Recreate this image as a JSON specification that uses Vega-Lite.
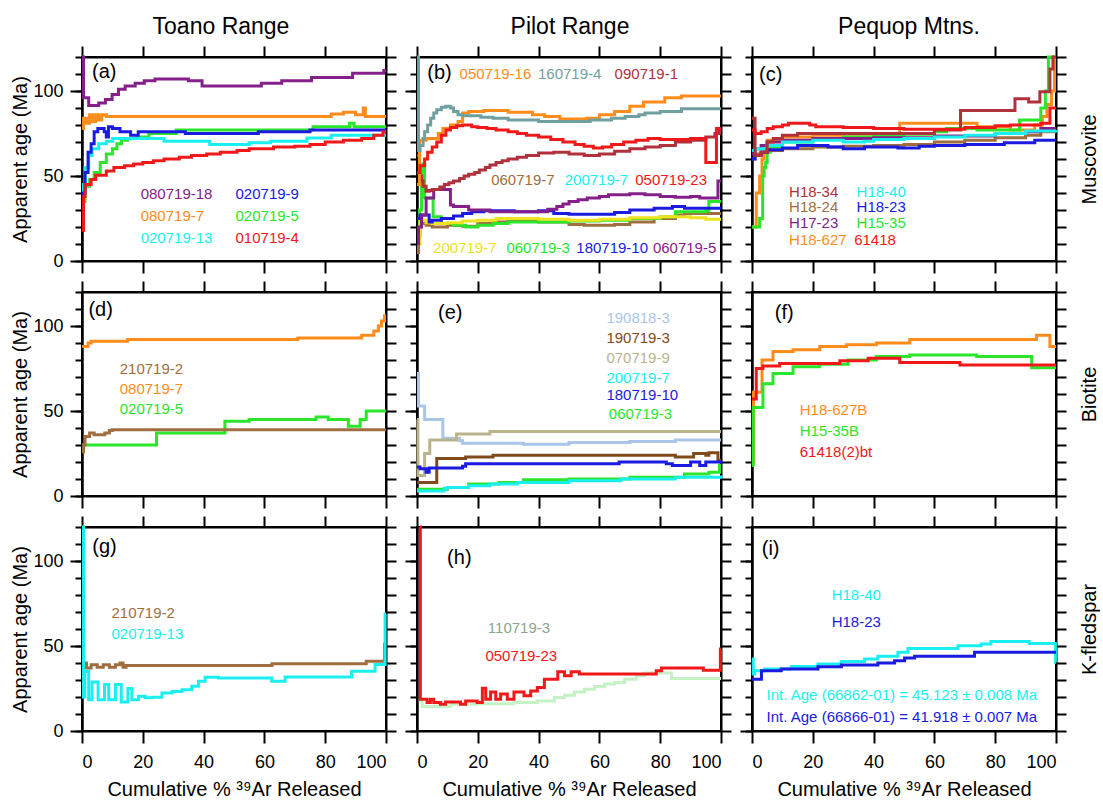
{
"$schema": "https://vega.github.io/schema/vega-lite/v6.json",
"background": "white",
"padding": {"left": 9, "top": 15, "right": 5, "bottom": 5},
"config": {
 "font": "Liberation Sans",
 "view": {"stroke": "black", "strokeWidth": 2},
 "axis": {"grid": false, "domainColor": "black", "domainWidth": 2, "tickColor": "black", "tickWidth": 2, "labelColor": "black", "labelFontSize": 18, "labelFont": "Liberation Sans", "labelPadding": 7, "titleFont": "Liberation Sans", "titleFontSize": 20, "titleFontWeight": "normal", "titleColor": "black"},
 "title": {"font": "Liberation Sans", "fontSize": 23, "fontWeight": "normal", "color": "black", "anchor": "middle", "frame": "group", "offset": 6},
 "text": {"font": "Liberation Sans"}
},
"datasets": {
"lines": [
{"p":"a","s":"080719-7","x":0,"y":78},{"p":"a","s":"080719-7","x":0.5,"y":84},{"p":"a","s":"080719-7","x":1.5,"y":81},{"p":"a","s":"080719-7","x":2.5,"y":86},{"p":"a","s":"080719-7","x":3.5,"y":82},{"p":"a","s":"080719-7","x":4.5,"y":86},{"p":"a","s":"080719-7","x":5.5,"y":83},{"p":"a","s":"080719-7","x":6.5,"y":86},{"p":"a","s":"080719-7","x":8,"y":85},{"p":"a","s":"080719-7","x":82,"y":86.5},{"p":"a","s":"080719-7","x":86,"y":87.5},{"p":"a","s":"080719-7","x":90,"y":86},{"p":"a","s":"080719-7","x":92.5,"y":90},{"p":"a","s":"080719-7","x":93.2,"y":85},{"p":"a","s":"080719-7","x":100,"y":85},
{"p":"a","s":"080719-18","x":0,"y":120},{"p":"a","s":"080719-18","x":0.5,"y":96},{"p":"a","s":"080719-18","x":2.2,"y":91.5},{"p":"a","s":"080719-18","x":5.5,"y":93},{"p":"a","s":"080719-18","x":7.7,"y":95},{"p":"a","s":"080719-18","x":9.9,"y":98},{"p":"a","s":"080719-18","x":12,"y":101},{"p":"a","s":"080719-18","x":14.2,"y":103},{"p":"a","s":"080719-18","x":17.5,"y":104.5},{"p":"a","s":"080719-18","x":20.5,"y":106},{"p":"a","s":"080719-18","x":24,"y":107},{"p":"a","s":"080719-18","x":35,"y":106},{"p":"a","s":"080719-18","x":39.5,"y":103},{"p":"a","s":"080719-18","x":51.5,"y":103},{"p":"a","s":"080719-18","x":59,"y":104.5},{"p":"a","s":"080719-18","x":65.7,"y":106},{"p":"a","s":"080719-18","x":75.5,"y":108},{"p":"a","s":"080719-18","x":89,"y":110.5},{"p":"a","s":"080719-18","x":99.3,"y":112},{"p":"a","s":"080719-18","x":100,"y":112},
{"p":"a","s":"020719-5","x":0,"y":35},{"p":"a","s":"020719-5","x":1,"y":44},{"p":"a","s":"020719-5","x":2.5,"y":48},{"p":"a","s":"020719-5","x":4,"y":52},{"p":"a","s":"020719-5","x":6,"y":58},{"p":"a","s":"020719-5","x":8,"y":63},{"p":"a","s":"020719-5","x":10,"y":66},{"p":"a","s":"020719-5","x":11.5,"y":69},{"p":"a","s":"020719-5","x":13,"y":71},{"p":"a","s":"020719-5","x":15,"y":72},{"p":"a","s":"020719-5","x":18,"y":73},{"p":"a","s":"020719-5","x":22,"y":75},{"p":"a","s":"020719-5","x":31,"y":77},{"p":"a","s":"020719-5","x":76,"y":79},{"p":"a","s":"020719-5","x":88,"y":81},{"p":"a","s":"020719-5","x":89.5,"y":79},{"p":"a","s":"020719-5","x":100,"y":79},
{"p":"a","s":"020719-13","x":0,"y":35},{"p":"a","s":"020719-13","x":0.5,"y":45},{"p":"a","s":"020719-13","x":1,"y":55},{"p":"a","s":"020719-13","x":2.2,"y":62},{"p":"a","s":"020719-13","x":3.3,"y":66},{"p":"a","s":"020719-13","x":5.5,"y":69},{"p":"a","s":"020719-13","x":8,"y":70.5},{"p":"a","s":"020719-13","x":10,"y":72},{"p":"a","s":"020719-13","x":27,"y":70.5},{"p":"a","s":"020719-13","x":42,"y":68.5},{"p":"a","s":"020719-13","x":55,"y":69.5},{"p":"a","s":"020719-13","x":62,"y":70.5},{"p":"a","s":"020719-13","x":74,"y":72.4},{"p":"a","s":"020719-13","x":82,"y":74},{"p":"a","s":"020719-13","x":100,"y":74},
{"p":"a","s":"020719-9","x":0,"y":25},{"p":"a","s":"020719-9","x":0.4,"y":40},{"p":"a","s":"020719-9","x":1,"y":52},{"p":"a","s":"020719-9","x":2,"y":64},{"p":"a","s":"020719-9","x":3,"y":69},{"p":"a","s":"020719-9","x":4,"y":76},{"p":"a","s":"020719-9","x":5.2,"y":78},{"p":"a","s":"020719-9","x":7.3,"y":76},{"p":"a","s":"020719-9","x":8,"y":73},{"p":"a","s":"020719-9","x":8.7,"y":79},{"p":"a","s":"020719-9","x":10,"y":78},{"p":"a","s":"020719-9","x":12.5,"y":76},{"p":"a","s":"020719-9","x":16,"y":74},{"p":"a","s":"020719-9","x":18.5,"y":76},{"p":"a","s":"020719-9","x":34,"y":75},{"p":"a","s":"020719-9","x":45,"y":75},{"p":"a","s":"020719-9","x":58,"y":76},{"p":"a","s":"020719-9","x":75,"y":77},{"p":"a","s":"020719-9","x":100,"y":77},
{"p":"a","s":"010719-4","x":0,"y":18},{"p":"a","s":"010719-4","x":0.5,"y":38},{"p":"a","s":"010719-4","x":1,"y":45},{"p":"a","s":"010719-4","x":3,"y":48},{"p":"a","s":"010719-4","x":4.5,"y":50.5},{"p":"a","s":"010719-4","x":8,"y":53},{"p":"a","s":"010719-4","x":10.5,"y":55},{"p":"a","s":"010719-4","x":14,"y":56},{"p":"a","s":"010719-4","x":17,"y":57},{"p":"a","s":"010719-4","x":20,"y":58},{"p":"a","s":"010719-4","x":23.5,"y":59},{"p":"a","s":"010719-4","x":27,"y":60},{"p":"a","s":"010719-4","x":32,"y":61},{"p":"a","s":"010719-4","x":36,"y":62},{"p":"a","s":"010719-4","x":41,"y":63},{"p":"a","s":"010719-4","x":45.5,"y":64},{"p":"a","s":"010719-4","x":51,"y":65},{"p":"a","s":"010719-4","x":55,"y":66},{"p":"a","s":"010719-4","x":63,"y":67},{"p":"a","s":"010719-4","x":70,"y":67.5},{"p":"a","s":"010719-4","x":75,"y":68.5},{"p":"a","s":"010719-4","x":80,"y":70},{"p":"a","s":"010719-4","x":86,"y":71},{"p":"a","s":"010719-4","x":92,"y":72},{"p":"a","s":"010719-4","x":96,"y":74},{"p":"a","s":"010719-4","x":99,"y":76},{"p":"a","s":"010719-4","x":100,"y":76},

{"p":"b","s":"060719-7","x":0,"y":5},{"p":"b","s":"060719-7","x":0.5,"y":15},{"p":"b","s":"060719-7","x":1,"y":22},{"p":"b","s":"060719-7","x":3,"y":21},{"p":"b","s":"060719-7","x":5,"y":20},{"p":"b","s":"060719-7","x":10,"y":21},{"p":"b","s":"060719-7","x":15,"y":20.5},{"p":"b","s":"060719-7","x":20,"y":22},{"p":"b","s":"060719-7","x":25,"y":23},{"p":"b","s":"060719-7","x":30,"y":23.5},{"p":"b","s":"060719-7","x":40,"y":23},{"p":"b","s":"060719-7","x":50,"y":21.5},{"p":"b","s":"060719-7","x":55,"y":21},{"p":"b","s":"060719-7","x":65,"y":21.5},{"p":"b","s":"060719-7","x":70,"y":23},{"p":"b","s":"060719-7","x":78,"y":25},{"p":"b","s":"060719-7","x":85,"y":27},{"p":"b","s":"060719-7","x":88,"y":28},{"p":"b","s":"060719-7","x":100,"y":28},
{"p":"b","s":"060719-3","x":0,"y":10},{"p":"b","s":"060719-3","x":0.8,"y":30},{"p":"b","s":"060719-3","x":1.5,"y":57},{"p":"b","s":"060719-3","x":2.5,"y":37},{"p":"b","s":"060719-3","x":5.3,"y":26},{"p":"b","s":"060719-3","x":8,"y":22},{"p":"b","s":"060719-3","x":12,"y":21},{"p":"b","s":"060719-3","x":16,"y":20},{"p":"b","s":"060719-3","x":20,"y":21},{"p":"b","s":"060719-3","x":25,"y":22},{"p":"b","s":"060719-3","x":30,"y":23},{"p":"b","s":"060719-3","x":50,"y":23.5},{"p":"b","s":"060719-3","x":60,"y":24},{"p":"b","s":"060719-3","x":70,"y":25},{"p":"b","s":"060719-3","x":80,"y":26},{"p":"b","s":"060719-3","x":85,"y":29},{"p":"b","s":"060719-3","x":95,"y":29.5},{"p":"b","s":"060719-3","x":96,"y":35},{"p":"b","s":"060719-3","x":100,"y":35},
{"p":"b","s":"200719-7y","x":0,"y":10},{"p":"b","s":"200719-7y","x":1,"y":25},{"p":"b","s":"200719-7y","x":1.5,"y":24},{"p":"b","s":"200719-7y","x":3,"y":22.5},{"p":"b","s":"200719-7y","x":5,"y":22},{"p":"b","s":"200719-7y","x":10,"y":22.5},{"p":"b","s":"200719-7y","x":15,"y":23.5},{"p":"b","s":"200719-7y","x":20,"y":24},{"p":"b","s":"200719-7y","x":26,"y":25},{"p":"b","s":"200719-7y","x":40,"y":24.5},{"p":"b","s":"200719-7y","x":50,"y":24},{"p":"b","s":"200719-7y","x":60,"y":24.5},{"p":"b","s":"200719-7y","x":70,"y":25.5},{"p":"b","s":"200719-7y","x":80,"y":26},{"p":"b","s":"200719-7y","x":90,"y":25.5},{"p":"b","s":"200719-7y","x":95,"y":24.5},{"p":"b","s":"200719-7y","x":100,"y":24.5},
{"p":"b","s":"180719-10","x":0,"y":25},{"p":"b","s":"180719-10","x":1,"y":27},{"p":"b","s":"180719-10","x":4,"y":23},{"p":"b","s":"180719-10","x":5,"y":24},{"p":"b","s":"180719-10","x":8,"y":25},{"p":"b","s":"180719-10","x":12,"y":26.5},{"p":"b","s":"180719-10","x":15,"y":28},{"p":"b","s":"180719-10","x":18,"y":29},{"p":"b","s":"180719-10","x":22,"y":29.5},{"p":"b","s":"180719-10","x":32,"y":29},{"p":"b","s":"180719-10","x":40,"y":29.5},{"p":"b","s":"180719-10","x":45,"y":28},{"p":"b","s":"180719-10","x":50,"y":27.5},{"p":"b","s":"180719-10","x":60,"y":27.5},{"p":"b","s":"180719-10","x":65,"y":28.5},{"p":"b","s":"180719-10","x":70,"y":30},{"p":"b","s":"180719-10","x":78,"y":31},{"p":"b","s":"180719-10","x":84,"y":32},{"p":"b","s":"180719-10","x":88,"y":31},{"p":"b","s":"180719-10","x":100,"y":31},
{"p":"b","s":"060719-5","x":0,"y":10},{"p":"b","s":"060719-5","x":0.5,"y":20},{"p":"b","s":"060719-5","x":1.5,"y":27},{"p":"b","s":"060719-5","x":3,"y":37},{"p":"b","s":"060719-5","x":5.5,"y":42},{"p":"b","s":"060719-5","x":11,"y":33},{"p":"b","s":"060719-5","x":12,"y":32},{"p":"b","s":"060719-5","x":17,"y":30},{"p":"b","s":"060719-5","x":24,"y":29},{"p":"b","s":"060719-5","x":43,"y":30.5},{"p":"b","s":"060719-5","x":46,"y":32},{"p":"b","s":"060719-5","x":48,"y":33.5},{"p":"b","s":"060719-5","x":50,"y":35},{"p":"b","s":"060719-5","x":53,"y":36},{"p":"b","s":"060719-5","x":56,"y":37},{"p":"b","s":"060719-5","x":60,"y":38},{"p":"b","s":"060719-5","x":63,"y":39},{"p":"b","s":"060719-5","x":70,"y":39.5},{"p":"b","s":"060719-5","x":75,"y":39},{"p":"b","s":"060719-5","x":80,"y":38},{"p":"b","s":"060719-5","x":85,"y":37.5},{"p":"b","s":"060719-5","x":90,"y":38},{"p":"b","s":"060719-5","x":93,"y":37},{"p":"b","s":"060719-5","x":99,"y":47},{"p":"b","s":"060719-5","x":100,"y":47},
{"p":"b","s":"090719-1","x":0,"y":62},{"p":"b","s":"090719-1","x":0.8,"y":50},{"p":"b","s":"090719-1","x":1.5,"y":47},{"p":"b","s":"090719-1","x":2,"y":44},{"p":"b","s":"090719-1","x":3,"y":41},{"p":"b","s":"090719-1","x":4,"y":41.5},{"p":"b","s":"090719-1","x":5,"y":42},{"p":"b","s":"090719-1","x":7.5,"y":43.5},{"p":"b","s":"090719-1","x":9,"y":45},{"p":"b","s":"090719-1","x":10.5,"y":46},{"p":"b","s":"090719-1","x":12,"y":47},{"p":"b","s":"090719-1","x":14,"y":48.5},{"p":"b","s":"090719-1","x":15.5,"y":50},{"p":"b","s":"090719-1","x":17,"y":51},{"p":"b","s":"090719-1","x":19,"y":52},{"p":"b","s":"090719-1","x":20.5,"y":53.5},{"p":"b","s":"090719-1","x":22.5,"y":55},{"p":"b","s":"090719-1","x":24,"y":56.5},{"p":"b","s":"090719-1","x":26,"y":58},{"p":"b","s":"090719-1","x":28,"y":59},{"p":"b","s":"090719-1","x":30,"y":60},{"p":"b","s":"090719-1","x":33,"y":61},{"p":"b","s":"090719-1","x":36,"y":62},{"p":"b","s":"090719-1","x":40,"y":63.5},{"p":"b","s":"090719-1","x":45,"y":64},{"p":"b","s":"090719-1","x":50,"y":63},{"p":"b","s":"090719-1","x":55,"y":62},{"p":"b","s":"090719-1","x":60,"y":63},{"p":"b","s":"090719-1","x":65,"y":64.5},{"p":"b","s":"090719-1","x":70,"y":66},{"p":"b","s":"090719-1","x":75,"y":67},{"p":"b","s":"090719-1","x":80,"y":68},{"p":"b","s":"090719-1","x":85,"y":70},{"p":"b","s":"090719-1","x":90,"y":71},{"p":"b","s":"090719-1","x":95,"y":73},{"p":"b","s":"090719-1","x":98,"y":75},{"p":"b","s":"090719-1","x":99.5,"y":78},{"p":"b","s":"090719-1","x":100,"y":78},
{"p":"b","s":"050719-16","x":0,"y":45},{"p":"b","s":"050719-16","x":0.8,"y":71},{"p":"b","s":"050719-16","x":3,"y":72},{"p":"b","s":"050719-16","x":7,"y":75},{"p":"b","s":"050719-16","x":8.5,"y":78},{"p":"b","s":"050719-16","x":11,"y":80},{"p":"b","s":"050719-16","x":13.5,"y":82},{"p":"b","s":"050719-16","x":15,"y":87},{"p":"b","s":"050719-16","x":17,"y":88},{"p":"b","s":"050719-16","x":22,"y":88.5},{"p":"b","s":"050719-16","x":30,"y":87.5},{"p":"b","s":"050719-16","x":38,"y":86},{"p":"b","s":"050719-16","x":42,"y":85},{"p":"b","s":"050719-16","x":47,"y":83.5},{"p":"b","s":"050719-16","x":56,"y":84},{"p":"b","s":"050719-16","x":60,"y":86},{"p":"b","s":"050719-16","x":65,"y":88},{"p":"b","s":"050719-16","x":70,"y":91},{"p":"b","s":"050719-16","x":74.5,"y":93.5},{"p":"b","s":"050719-16","x":81.5,"y":96},{"p":"b","s":"050719-16","x":87,"y":97},{"p":"b","s":"050719-16","x":100,"y":97},
{"p":"b","s":"160719-4","x":0,"y":120},{"p":"b","s":"160719-4","x":0.5,"y":65},{"p":"b","s":"160719-4","x":1,"y":68},{"p":"b","s":"160719-4","x":2,"y":72},{"p":"b","s":"160719-4","x":2.5,"y":76},{"p":"b","s":"160719-4","x":3.5,"y":80},{"p":"b","s":"160719-4","x":4.5,"y":84},{"p":"b","s":"160719-4","x":5.5,"y":87},{"p":"b","s":"160719-4","x":6.5,"y":89},{"p":"b","s":"160719-4","x":8,"y":90.5},{"p":"b","s":"160719-4","x":9.5,"y":91},{"p":"b","s":"160719-4","x":11,"y":90},{"p":"b","s":"160719-4","x":12,"y":88},{"p":"b","s":"160719-4","x":13.5,"y":86},{"p":"b","s":"160719-4","x":15,"y":85.5},{"p":"b","s":"160719-4","x":21,"y":84.5},{"p":"b","s":"160719-4","x":25,"y":84},{"p":"b","s":"160719-4","x":30,"y":83},{"p":"b","s":"160719-4","x":40,"y":82},{"p":"b","s":"160719-4","x":51,"y":82},{"p":"b","s":"160719-4","x":57,"y":83},{"p":"b","s":"160719-4","x":64,"y":84},{"p":"b","s":"160719-4","x":68.5,"y":85},{"p":"b","s":"160719-4","x":73,"y":86},{"p":"b","s":"160719-4","x":75,"y":87},{"p":"b","s":"160719-4","x":80,"y":88},{"p":"b","s":"160719-4","x":87,"y":89.5},{"p":"b","s":"160719-4","x":100,"y":89.5},
{"p":"b","s":"050719-23","x":0,"y":52},{"p":"b","s":"050719-23","x":1,"y":56},{"p":"b","s":"050719-23","x":2.5,"y":60},{"p":"b","s":"050719-23","x":3.5,"y":64},{"p":"b","s":"050719-23","x":5,"y":67},{"p":"b","s":"050719-23","x":6.5,"y":70},{"p":"b","s":"050719-23","x":8,"y":74},{"p":"b","s":"050719-23","x":9.5,"y":77},{"p":"b","s":"050719-23","x":11,"y":78.5},{"p":"b","s":"050719-23","x":13,"y":79.5},{"p":"b","s":"050719-23","x":15,"y":80},{"p":"b","s":"050719-23","x":18,"y":79},{"p":"b","s":"050719-23","x":20,"y":78.5},{"p":"b","s":"050719-23","x":23,"y":78},{"p":"b","s":"050719-23","x":26,"y":77},{"p":"b","s":"050719-23","x":30,"y":76},{"p":"b","s":"050719-23","x":33,"y":75},{"p":"b","s":"050719-23","x":36,"y":74},{"p":"b","s":"050719-23","x":40,"y":73},{"p":"b","s":"050719-23","x":44,"y":71.5},{"p":"b","s":"050719-23","x":48,"y":70},{"p":"b","s":"050719-23","x":52,"y":68.5},{"p":"b","s":"050719-23","x":55,"y":67.5},{"p":"b","s":"050719-23","x":58,"y":66.5},{"p":"b","s":"050719-23","x":61,"y":67},{"p":"b","s":"050719-23","x":64,"y":68.5},{"p":"b","s":"050719-23","x":68,"y":70},{"p":"b","s":"050719-23","x":72,"y":71},{"p":"b","s":"050719-23","x":76,"y":72},{"p":"b","s":"050719-23","x":80,"y":71.5},{"p":"b","s":"050719-23","x":90,"y":72},{"p":"b","s":"050719-23","x":95,"y":58},{"p":"b","s":"050719-23","x":98.5,"y":78},{"p":"b","s":"050719-23","x":100,"y":78},

{"p":"c","s":"H18-627","x":0,"y":20},{"p":"c","s":"H18-627","x":1.4,"y":40},{"p":"c","s":"H18-627","x":2.5,"y":50},{"p":"c","s":"H18-627","x":3.3,"y":60},{"p":"c","s":"H18-627","x":4,"y":68},{"p":"c","s":"H18-627","x":5,"y":71},{"p":"c","s":"H18-627","x":10,"y":73},{"p":"c","s":"H18-627","x":20,"y":74},{"p":"c","s":"H18-627","x":30,"y":74.5},{"p":"c","s":"H18-627","x":40,"y":75},{"p":"c","s":"H18-627","x":48.6,"y":81},{"p":"c","s":"H18-627","x":74,"y":79},{"p":"c","s":"H18-627","x":85,"y":77},{"p":"c","s":"H18-627","x":93,"y":80},{"p":"c","s":"H18-627","x":95.5,"y":85},{"p":"c","s":"H18-627","x":97,"y":92},{"p":"c","s":"H18-627","x":98.5,"y":100},{"p":"c","s":"H18-627","x":99.5,"y":120},{"p":"c","s":"H18-627","x":100,"y":120},
{"p":"c","s":"H15-35","x":0,"y":20},{"p":"c","s":"H15-35","x":2.5,"y":25},{"p":"c","s":"H15-35","x":3.5,"y":50},{"p":"c","s":"H15-35","x":4,"y":55},{"p":"c","s":"H15-35","x":4.5,"y":58},{"p":"c","s":"H15-35","x":5,"y":64},{"p":"c","s":"H15-35","x":6,"y":67},{"p":"c","s":"H15-35","x":10,"y":70},{"p":"c","s":"H15-35","x":20,"y":72},{"p":"c","s":"H15-35","x":30,"y":73},{"p":"c","s":"H15-35","x":40,"y":73.5},{"p":"c","s":"H15-35","x":50,"y":74.5},{"p":"c","s":"H15-35","x":60,"y":76},{"p":"c","s":"H15-35","x":64,"y":78},{"p":"c","s":"H15-35","x":74,"y":77},{"p":"c","s":"H15-35","x":88,"y":83},{"p":"c","s":"H15-35","x":95,"y":90},{"p":"c","s":"H15-35","x":96.5,"y":100},{"p":"c","s":"H15-35","x":97.5,"y":120},{"p":"c","s":"H15-35","x":100,"y":120},
{"p":"c","s":"H18-24","x":0,"y":60},{"p":"c","s":"H18-24","x":1,"y":63},{"p":"c","s":"H18-24","x":3,"y":64},{"p":"c","s":"H18-24","x":5,"y":65},{"p":"c","s":"H18-24","x":10,"y":66},{"p":"c","s":"H18-24","x":20,"y":67},{"p":"c","s":"H18-24","x":30,"y":67.5},{"p":"c","s":"H18-24","x":40,"y":68},{"p":"c","s":"H18-24","x":50,"y":68.5},{"p":"c","s":"H18-24","x":60,"y":70},{"p":"c","s":"H18-24","x":70,"y":71},{"p":"c","s":"H18-24","x":80,"y":72.5},{"p":"c","s":"H18-24","x":90,"y":74},{"p":"c","s":"H18-24","x":95,"y":76},{"p":"c","s":"H18-24","x":100,"y":76},
{"p":"c","s":"H17-23","x":0,"y":63},{"p":"c","s":"H17-23","x":1,"y":66},{"p":"c","s":"H17-23","x":3,"y":68},{"p":"c","s":"H17-23","x":5,"y":70},{"p":"c","s":"H17-23","x":10,"y":71},{"p":"c","s":"H17-23","x":20,"y":72},{"p":"c","s":"H17-23","x":40,"y":72.5},{"p":"c","s":"H17-23","x":60,"y":73.5},{"p":"c","s":"H17-23","x":80,"y":75},{"p":"c","s":"H17-23","x":90,"y":76},{"p":"c","s":"H17-23","x":95,"y":78},{"p":"c","s":"H17-23","x":100,"y":78},
{"p":"c","s":"H18-40","x":0,"y":65},{"p":"c","s":"H18-40","x":1,"y":66},{"p":"c","s":"H18-40","x":5,"y":68},{"p":"c","s":"H18-40","x":10,"y":70},{"p":"c","s":"H18-40","x":20,"y":71},{"p":"c","s":"H18-40","x":30,"y":70},{"p":"c","s":"H18-40","x":37,"y":70.5},{"p":"c","s":"H18-40","x":40,"y":71.5},{"p":"c","s":"H18-40","x":50,"y":72},{"p":"c","s":"H18-40","x":60,"y":73},{"p":"c","s":"H18-40","x":70,"y":74},{"p":"c","s":"H18-40","x":80,"y":75},{"p":"c","s":"H18-40","x":90,"y":76.5},{"p":"c","s":"H18-40","x":100,"y":77},
{"p":"c","s":"H18-23","x":0,"y":60},{"p":"c","s":"H18-23","x":1,"y":62},{"p":"c","s":"H18-23","x":3,"y":64},{"p":"c","s":"H18-23","x":5,"y":65.5},{"p":"c","s":"H18-23","x":10,"y":66.5},{"p":"c","s":"H18-23","x":15,"y":68},{"p":"c","s":"H18-23","x":25,"y":67},{"p":"c","s":"H18-23","x":30,"y":66},{"p":"c","s":"H18-23","x":37,"y":67},{"p":"c","s":"H18-23","x":48,"y":66.5},{"p":"c","s":"H18-23","x":55,"y":67.5},{"p":"c","s":"H18-23","x":60,"y":68},{"p":"c","s":"H18-23","x":70,"y":68.5},{"p":"c","s":"H18-23","x":83,"y":69.5},{"p":"c","s":"H18-23","x":93,"y":71},{"p":"c","s":"H18-23","x":100,"y":71},
{"p":"c","s":"H18-34","x":0,"y":84},{"p":"c","s":"H18-34","x":1,"y":62},{"p":"c","s":"H18-34","x":3,"y":64},{"p":"c","s":"H18-34","x":5,"y":70},{"p":"c","s":"H18-34","x":7,"y":72},{"p":"c","s":"H18-34","x":10,"y":74},{"p":"c","s":"H18-34","x":15,"y":75},{"p":"c","s":"H18-34","x":40,"y":75},{"p":"c","s":"H18-34","x":60,"y":77},{"p":"c","s":"H18-34","x":68.6,"y":88.6},{"p":"c","s":"H18-34","x":86.5,"y":95.5},{"p":"c","s":"H18-34","x":91,"y":93.5},{"p":"c","s":"H18-34","x":94.7,"y":99.5},{"p":"c","s":"H18-34","x":98,"y":113},{"p":"c","s":"H18-34","x":99,"y":120},{"p":"c","s":"H18-34","x":100,"y":120},
{"p":"c","s":"61418","x":0,"y":77},{"p":"c","s":"61418","x":1,"y":75},{"p":"c","s":"61418","x":3,"y":76},{"p":"c","s":"61418","x":5,"y":78},{"p":"c","s":"61418","x":7,"y":79},{"p":"c","s":"61418","x":10,"y":80},{"p":"c","s":"61418","x":12,"y":81},{"p":"c","s":"61418","x":19,"y":80},{"p":"c","s":"61418","x":21,"y":79},{"p":"c","s":"61418","x":30,"y":78.5},{"p":"c","s":"61418","x":40,"y":78},{"p":"c","s":"61418","x":50,"y":77.5},{"p":"c","s":"61418","x":60,"y":77.5},{"p":"c","s":"61418","x":70,"y":78.5},{"p":"c","s":"61418","x":80,"y":79.5},{"p":"c","s":"61418","x":85,"y":80},{"p":"c","s":"61418","x":95,"y":81},{"p":"c","s":"61418","x":98,"y":90},{"p":"c","s":"61418","x":100,"y":90},

{"p":"d","s":"080719-7","x":0,"y":88},{"p":"d","s":"080719-7","x":2,"y":90},{"p":"d","s":"080719-7","x":3,"y":91},{"p":"d","s":"080719-7","x":15,"y":92},{"p":"d","s":"080719-7","x":71,"y":93},{"p":"d","s":"080719-7","x":92,"y":94.5},{"p":"d","s":"080719-7","x":96,"y":97},{"p":"d","s":"080719-7","x":97.5,"y":100},{"p":"d","s":"080719-7","x":98.5,"y":103},{"p":"d","s":"080719-7","x":99.5,"y":106},{"p":"d","s":"080719-7","x":100,"y":106},
{"p":"d","s":"020719-5","x":0,"y":28},{"p":"d","s":"020719-5","x":0.5,"y":30},{"p":"d","s":"020719-5","x":24.5,"y":37},{"p":"d","s":"020719-5","x":47,"y":44},{"p":"d","s":"020719-5","x":55,"y":45},{"p":"d","s":"020719-5","x":77,"y":46.5},{"p":"d","s":"020719-5","x":81,"y":45},{"p":"d","s":"020719-5","x":87.6,"y":41},{"p":"d","s":"020719-5","x":91.5,"y":45},{"p":"d","s":"020719-5","x":93.5,"y":50},{"p":"d","s":"020719-5","x":100,"y":50},
{"p":"d","s":"210719-2","x":0,"y":26},{"p":"d","s":"210719-2","x":0.5,"y":30},{"p":"d","s":"210719-2","x":1,"y":35},{"p":"d","s":"210719-2","x":2.5,"y":37},{"p":"d","s":"210719-2","x":4,"y":36},{"p":"d","s":"210719-2","x":7.5,"y":37},{"p":"d","s":"210719-2","x":9,"y":38.5},{"p":"d","s":"210719-2","x":10,"y":39},{"p":"d","s":"210719-2","x":100,"y":39},

{"p":"e","s":"190818-3","x":0,"y":72},{"p":"e","s":"190818-3","x":0.5,"y":53},{"p":"e","s":"190818-3","x":2.5,"y":45},{"p":"e","s":"190818-3","x":8.5,"y":34},{"p":"e","s":"190818-3","x":14,"y":32.5},{"p":"e","s":"190818-3","x":15,"y":31},{"p":"e","s":"190818-3","x":35,"y":30.5},{"p":"e","s":"190818-3","x":50,"y":31.5},{"p":"e","s":"190818-3","x":70,"y":32},{"p":"e","s":"190818-3","x":85,"y":33},{"p":"e","s":"190818-3","x":100,"y":33},
{"p":"e","s":"070719-9","x":0,"y":45},{"p":"e","s":"070719-9","x":0.3,"y":12},{"p":"e","s":"070719-9","x":2.5,"y":25},{"p":"e","s":"070719-9","x":4.2,"y":33},{"p":"e","s":"070719-9","x":13,"y":36.5},{"p":"e","s":"070719-9","x":24,"y":38},{"p":"e","s":"070719-9","x":100,"y":38},
{"p":"e","s":"190719-3","x":0,"y":8},{"p":"e","s":"190719-3","x":6.5,"y":22},{"p":"e","s":"190719-3","x":16,"y":23},{"p":"e","s":"190719-3","x":25,"y":24},{"p":"e","s":"190719-3","x":85,"y":23},{"p":"e","s":"190719-3","x":91,"y":25},{"p":"e","s":"190719-3","x":95,"y":24},{"p":"e","s":"190719-3","x":96,"y":25.5},{"p":"e","s":"190719-3","x":99,"y":21},{"p":"e","s":"190719-3","x":100,"y":21},
{"p":"e","s":"180719-10","x":0,"y":17},{"p":"e","s":"180719-10","x":1,"y":16},{"p":"e","s":"180719-10","x":3,"y":14},{"p":"e","s":"180719-10","x":4,"y":16.5},{"p":"e","s":"180719-10","x":15,"y":17.5},{"p":"e","s":"180719-10","x":16,"y":19},{"p":"e","s":"180719-10","x":66.5,"y":20},{"p":"e","s":"180719-10","x":82,"y":19},{"p":"e","s":"180719-10","x":84,"y":18},{"p":"e","s":"180719-10","x":90,"y":20},{"p":"e","s":"180719-10","x":93,"y":18},{"p":"e","s":"180719-10","x":95,"y":20},{"p":"e","s":"180719-10","x":100,"y":19},
{"p":"e","s":"060719-3","x":0,"y":4},{"p":"e","s":"060719-3","x":10,"y":5},{"p":"e","s":"060719-3","x":17,"y":7},{"p":"e","s":"060719-3","x":27,"y":8},{"p":"e","s":"060719-3","x":35,"y":9.5},{"p":"e","s":"060719-3","x":50,"y":10},{"p":"e","s":"060719-3","x":70,"y":11},{"p":"e","s":"060719-3","x":88,"y":13},{"p":"e","s":"060719-3","x":96,"y":14},{"p":"e","s":"060719-3","x":99.5,"y":18},{"p":"e","s":"060719-3","x":100,"y":18},
{"p":"e","s":"200719-7","x":0,"y":3},{"p":"e","s":"200719-7","x":9,"y":4.5},{"p":"e","s":"200719-7","x":10,"y":5},{"p":"e","s":"200719-7","x":17,"y":6},{"p":"e","s":"200719-7","x":24,"y":7},{"p":"e","s":"200719-7","x":33,"y":8},{"p":"e","s":"200719-7","x":50,"y":9},{"p":"e","s":"200719-7","x":67,"y":10},{"p":"e","s":"200719-7","x":85,"y":11},{"p":"e","s":"200719-7","x":100,"y":12},

{"p":"f","s":"H18-627B","x":0,"y":20},{"p":"f","s":"H18-627B","x":0.5,"y":61},{"p":"f","s":"H18-627B","x":3.3,"y":80},{"p":"f","s":"H18-627B","x":6.9,"y":85},{"p":"f","s":"H18-627B","x":13.5,"y":86},{"p":"f","s":"H18-627B","x":22.3,"y":88},{"p":"f","s":"H18-627B","x":31.1,"y":89},{"p":"f","s":"H18-627B","x":40.9,"y":90},{"p":"f","s":"H18-627B","x":51.9,"y":92},{"p":"f","s":"H18-627B","x":93.6,"y":94.5},{"p":"f","s":"H18-627B","x":98,"y":88},{"p":"f","s":"H18-627B","x":100,"y":88},
{"p":"f","s":"H15-35B","x":0,"y":18},{"p":"f","s":"H15-35B","x":0.4,"y":52},{"p":"f","s":"H15-35B","x":3.6,"y":66},{"p":"f","s":"H15-35B","x":6.9,"y":72},{"p":"f","s":"H15-35B","x":13.5,"y":76},{"p":"f","s":"H15-35B","x":22.3,"y":77.5},{"p":"f","s":"H15-35B","x":31.6,"y":80},{"p":"f","s":"H15-35B","x":40.9,"y":82},{"p":"f","s":"H15-35B","x":51.9,"y":83},{"p":"f","s":"H15-35B","x":73.9,"y":82},{"p":"f","s":"H15-35B","x":92,"y":75.5},{"p":"f","s":"H15-35B","x":100,"y":75.5},
{"p":"f","s":"61418(2)bt","x":0,"y":57},{"p":"f","s":"61418(2)bt","x":1.4,"y":75},{"p":"f","s":"61418(2)bt","x":3.6,"y":76.5},{"p":"f","s":"61418(2)bt","x":9.1,"y":78},{"p":"f","s":"61418(2)bt","x":28.9,"y":79.5},{"p":"f","s":"61418(2)bt","x":38.2,"y":81},{"p":"f","s":"61418(2)bt","x":48.6,"y":78.5},{"p":"f","s":"61418(2)bt","x":68.4,"y":77},{"p":"f","s":"61418(2)bt","x":100,"y":77},

{"p":"g","s":"210719-2","x":0,"y":36},{"p":"g","s":"210719-2","x":0.5,"y":40},{"p":"g","s":"210719-2","x":1.5,"y":37},{"p":"g","s":"210719-2","x":3,"y":39},{"p":"g","s":"210719-2","x":5,"y":37.5},{"p":"g","s":"210719-2","x":7,"y":39},{"p":"g","s":"210719-2","x":9,"y":37.5},{"p":"g","s":"210719-2","x":11,"y":39},{"p":"g","s":"210719-2","x":12.5,"y":40},{"p":"g","s":"210719-2","x":13.5,"y":37.5},{"p":"g","s":"210719-2","x":14.5,"y":38.5},{"p":"g","s":"210719-2","x":62.5,"y":39.5},{"p":"g","s":"210719-2","x":93.5,"y":41},{"p":"g","s":"210719-2","x":99.5,"y":51},{"p":"g","s":"210719-2","x":100,"y":51},
{"p":"g","s":"020719-13","x":0,"y":120},{"p":"g","s":"020719-13","x":0.5,"y":20},{"p":"g","s":"020719-13","x":0.9,"y":35},{"p":"g","s":"020719-13","x":2.2,"y":18.4},{"p":"g","s":"020719-13","x":3.3,"y":28.8},{"p":"g","s":"020719-13","x":5.3,"y":18.4},{"p":"g","s":"020719-13","x":7.4,"y":27.3},{"p":"g","s":"020719-13","x":8.8,"y":18.4},{"p":"g","s":"020719-13","x":11,"y":27.3},{"p":"g","s":"020719-13","x":12.9,"y":17},{"p":"g","s":"020719-13","x":15.1,"y":25},{"p":"g","s":"020719-13","x":16.4,"y":18.4},{"p":"g","s":"020719-13","x":18.6,"y":20.4},{"p":"g","s":"020719-13","x":20.8,"y":19.5},{"p":"g","s":"020719-13","x":23,"y":19.8},{"p":"g","s":"020719-13","x":26.3,"y":22.3},{"p":"g","s":"020719-13","x":29.6,"y":23.3},{"p":"g","s":"020719-13","x":32.9,"y":24.2},{"p":"g","s":"020719-13","x":36.1,"y":26.3},{"p":"g","s":"020719-13","x":38.3,"y":29.2},{"p":"g","s":"020719-13","x":40.5,"y":31.6},{"p":"g","s":"020719-13","x":44.9,"y":31.2},{"p":"g","s":"020719-13","x":62.4,"y":29.2},{"p":"g","s":"020719-13","x":66.8,"y":31.8},{"p":"g","s":"020719-13","x":88.7,"y":35.2},{"p":"g","s":"020719-13","x":96.4,"y":39.1},{"p":"g","s":"020719-13","x":99.7,"y":68.8},{"p":"g","s":"020719-13","x":100,"y":68.8},

{"p":"h","s":"110719-3","x":0.6,"y":18},{"p":"h","s":"110719-3","x":1.7,"y":14.4},{"p":"h","s":"110719-3","x":11,"y":15.7},{"p":"h","s":"110719-3","x":19.8,"y":16.1},{"p":"h","s":"110719-3","x":31.9,"y":16.7},{"p":"h","s":"110719-3","x":39.6,"y":17.7},{"p":"h","s":"110719-3","x":45.2,"y":19.7},{"p":"h","s":"110719-3","x":48.5,"y":21.1},{"p":"h","s":"110719-3","x":51.8,"y":23},{"p":"h","s":"110719-3","x":55.1,"y":24.6},{"p":"h","s":"110719-3","x":58.4,"y":26.2},{"p":"h","s":"110719-3","x":61.7,"y":27.6},{"p":"h","s":"110719-3","x":65,"y":28.5},{"p":"h","s":"110719-3","x":68.3,"y":30.5},{"p":"h","s":"110719-3","x":72.1,"y":32.5},{"p":"h","s":"110719-3","x":74.9,"y":34.1},{"p":"h","s":"110719-3","x":83.7,"y":30.9},{"p":"h","s":"110719-3","x":100,"y":30.9},
{"p":"h","s":"050719-23","x":1,"y":120},{"p":"h","s":"050719-23","x":1.1,"y":18.7},{"p":"h","s":"050719-23","x":3.3,"y":16.7},{"p":"h","s":"050719-23","x":4.4,"y":18.7},{"p":"h","s":"050719-23","x":5.5,"y":16.7},{"p":"h","s":"050719-23","x":7.7,"y":15.7},{"p":"h","s":"050719-23","x":9.4,"y":17.1},{"p":"h","s":"050719-23","x":14.3,"y":15.7},{"p":"h","s":"050719-23","x":16,"y":17.7},{"p":"h","s":"050719-23","x":19.8,"y":16.7},{"p":"h","s":"050719-23","x":21.5,"y":25.2},{"p":"h","s":"050719-23","x":22.6,"y":18.7},{"p":"h","s":"050719-23","x":24.2,"y":23},{"p":"h","s":"050719-23","x":25.9,"y":18.7},{"p":"h","s":"050719-23","x":27.5,"y":21.7},{"p":"h","s":"050719-23","x":29.7,"y":18.7},{"p":"h","s":"050719-23","x":31.9,"y":23},{"p":"h","s":"050719-23","x":35.2,"y":20.7},{"p":"h","s":"050719-23","x":37.4,"y":23.6},{"p":"h","s":"050719-23","x":39.6,"y":25.6},{"p":"h","s":"050719-23","x":41.9,"y":30.5},{"p":"h","s":"050719-23","x":46.3,"y":34.8},{"p":"h","s":"050719-23","x":48.5,"y":32.5},{"p":"h","s":"050719-23","x":50.7,"y":34.8},{"p":"h","s":"050719-23","x":53.4,"y":33.5},{"p":"h","s":"050719-23","x":74.9,"y":33.5},{"p":"h","s":"050719-23","x":78.7,"y":35.4},{"p":"h","s":"050719-23","x":80.4,"y":37},{"p":"h","s":"050719-23","x":94.2,"y":35.8},{"p":"h","s":"050719-23","x":99.8,"y":48.2},{"p":"h","s":"050719-23","x":100,"y":48.2},

{"p":"i","s":"H18-40","x":0,"y":42.3},{"p":"i","s":"H18-40","x":0.4,"y":33.5},{"p":"i","s":"H18-40","x":0.9,"y":35.4},{"p":"i","s":"H18-40","x":4.2,"y":36.4},{"p":"i","s":"H18-40","x":12.9,"y":38},{"p":"i","s":"H18-40","x":21.7,"y":39.4},{"p":"i","s":"H18-40","x":29.4,"y":40.9},{"p":"i","s":"H18-40","x":37,"y":42.3},{"p":"i","s":"H18-40","x":41.4,"y":43.9},{"p":"i","s":"H18-40","x":48,"y":46.3},{"p":"i","s":"H18-40","x":51.3,"y":48.6},{"p":"i","s":"H18-40","x":67.7,"y":50.2},{"p":"i","s":"H18-40","x":75.4,"y":51.2},{"p":"i","s":"H18-40","x":78.6,"y":52.6},{"p":"i","s":"H18-40","x":91.2,"y":51.4},{"p":"i","s":"H18-40","x":99.8,"y":40.4},{"p":"i","s":"H18-40","x":100,"y":40.4},
{"p":"i","s":"H18-23","x":0,"y":30.5},{"p":"i","s":"H18-23","x":3.1,"y":35.4},{"p":"i","s":"H18-23","x":9.6,"y":36.4},{"p":"i","s":"H18-23","x":21.7,"y":37.8},{"p":"i","s":"H18-23","x":29.4,"y":38.8},{"p":"i","s":"H18-23","x":41.4,"y":40},{"p":"i","s":"H18-23","x":46.9,"y":41.3},{"p":"i","s":"H18-23","x":50.2,"y":42.9},{"p":"i","s":"H18-23","x":53.5,"y":43.9},{"p":"i","s":"H18-23","x":73.2,"y":46.3},{"p":"i","s":"H18-23","x":100,"y":46.3}
],
"labels": [
{"p":"a","s":"080719-18","t":"080719-18","x":19.3,"y":39.4},{"p":"a","s":"020719-9","t":"020719-9","x":50.5,"y":39.4},{"p":"a","s":"080719-7","t":"080719-7","x":19.3,"y":26.5},{"p":"a","s":"020719-5","t":"020719-5","x":50.5,"y":26.5},{"p":"a","s":"020719-13","t":"020719-13","x":19.3,"y":13.5},{"p":"a","s":"010719-4","t":"010719-4","x":50.5,"y":13.5},
{"p":"b","s":"050719-16","t":"050719-16","x":14,"y":109.8},{"p":"b","s":"160719-4","t":"160719-4","x":39.8,"y":109.8},{"p":"b","s":"090719-1","t":"090719-1","x":65,"y":109.8},{"p":"b","s":"060719-7","t":"060719-7","x":24.4,"y":47.6},{"p":"b","s":"200719-7","t":"200719-7","x":48.6,"y":47.6},{"p":"b","s":"050719-23","t":"050719-23","x":71.8,"y":47.6},{"p":"b","s":"200719-7y","t":"200719-7","x":5.3,"y":7.5},{"p":"b","s":"060719-3","t":"060719-3","x":29.4,"y":7.5},{"p":"b","s":"180719-10","t":"180719-10","x":52.4,"y":7.5},{"p":"b","s":"060719-5","t":"060719-5","x":77.6,"y":7.5},
{"p":"c","s":"H18-34","t":"H18-34","x":12.2,"y":40.8},{"p":"c","s":"H18-40","t":"H18-40","x":34.4,"y":40.8},{"p":"c","s":"H18-24","t":"H18-24","x":12.2,"y":31.9},{"p":"c","s":"H18-23","t":"H18-23","x":34.4,"y":31.9},{"p":"c","s":"H17-23","t":"H17-23","x":12.2,"y":22.2},{"p":"c","s":"H15-35","t":"H15-35","x":34.4,"y":22.2},{"p":"c","s":"H18-627","t":"H18-627","x":12.2,"y":12.4},{"p":"c","s":"61418","t":"61418","x":33.6,"y":12.4},
{"p":"d","s":"210719-2","t":"210719-2","x":12.4,"y":75},{"p":"d","s":"080719-7","t":"080719-7","x":12.4,"y":63.1},{"p":"d","s":"020719-5","t":"020719-5","x":12.4,"y":51.3},
{"p":"e","s":"190818-3","t":"190818-3","x":62.3,"y":104.6},{"p":"e","s":"190719-3","t":"190719-3","x":62.3,"y":92.7},{"p":"e","s":"070719-9","t":"070719-9","x":62.3,"y":80.9},{"p":"e","s":"200719-7","t":"200719-7","x":62.3,"y":69.6},{"p":"e","s":"180719-10","t":"180719-10","x":62.3,"y":59.2},{"p":"e","s":"060719-3","t":"060719-3","x":63.1,"y":48.3},
{"p":"f","s":"H18-627B","t":"H18-627B","x":15.7,"y":50.3},{"p":"f","s":"H15-35B","t":"H15-35B","x":15.7,"y":38.5},{"p":"f","s":"61418(2)bt","t":"61418(2)bt","x":15.7,"y":25.6},
{"p":"g","s":"210719-2","t":"210719-2","x":9.7,"y":69.7},{"p":"g","s":"020719-13","t":"020719-13","x":9.7,"y":56.9},
{"p":"h","s":"110719-3t","t":"110719-3","x":23.3,"y":60.4},{"p":"h","s":"050719-23","t":"050719-23","x":22.5,"y":44},
{"p":"i","s":"H18-40","t":"H18-40","x":26.2,"y":80.2},{"p":"i","s":"H18-23","t":"H18-23","x":26.2,"y":64.3},{"p":"i","s":"H18-40","t":"Int. Age (66862-01) = 45.123 ± 0.008 Ma","x":4.8,"y":21.4},{"p":"i","s":"H18-23","t":"Int. Age (66866-01) = 41.918 ± 0.007 Ma","x":4.8,"y":8.5}
],
"tags": [
{"p":"a","t":"(a)","x":3.3,"y":111},{"p":"b","t":"(b)","x":3.4,"y":110.4},{"p":"c","t":"(c)","x":2.3,"y":109.4},{"p":"d","t":"(d)","x":2.1,"y":109.5},{"p":"e","t":"(e)","x":6.9,"y":107.5},{"p":"f","t":"(f)","x":7.5,"y":107.5},{"p":"g","t":"(g)","x":3.4,"y":108},{"p":"h","t":"(h)","x":9.9,"y":102},{"p":"i","t":"(i)","x":3.2,"y":107}
]
},
"columns": 3,
"spacing": {"row": 31, "column": 31},
"bounds": "flush",
"resolve": {"scale": {"color": "independent"}},
"concat": [
{"width": 304, "height": 204, "title": {"text": "Toano Range", "dx": -13},
 "layer": [
  {"data": {"name": "lines"}, "transform": [{"filter": "datum.p==='a'"}], "mark": {"type": "line", "opacity": 0},
   "encoding": {"x": {"field": "x", "type": "quantitative", "scale": {"domain": [0,100], "nice": false}, "axis": {"orient": "top", "values": [0,20,40,60,80,100], "labels": false, "tickSize": 11, "title": null}},
    "y": {"field": "y", "type": "quantitative", "scale": {"domain": [0,120], "nice": false}, "axis": {"orient": "left", "values": [0,10,20,30,40,50,60,70,80,90,100,110,120], "labels": false, "tickSize": 7, "title": null}}}},
  {"data": {"name": "lines"}, "transform": [{"filter": "datum.p==='a'"}], "mark": {"type": "line", "opacity": 0},
   "encoding": {"x": {"field": "x", "type": "quantitative", "axis": null},
    "y": {"field": "y", "type": "quantitative", "axis": {"orient": "right", "values": [0,10,20,30,40,50,60,70,80,90,100,110,120], "labels": false, "tickSize": 10, "title": null}}}},
  {"data": {"name": "lines"}, "transform": [{"filter": "datum.p==='a'"}], "mark": {"type": "line", "interpolate": "step-after", "strokeWidth": 3},
   "encoding": {"x": {"field": "x", "type": "quantitative", "axis": {"orient": "bottom", "values": [0,20,40,60,80,100], "labels": false, "tickSize": 12, "title": null}},
    "y": {"field": "y", "type": "quantitative", "axis": {"orient": "left", "values": [0,50,100], "tickSize": 12, "title": "Apparent age (Ma)", "titlePadding": 2}},
    "color": {"field": "s", "type": "nominal", "legend": null, "scale": {"domain": ["080719-18","080719-7","020719-13","020719-9","020719-5","010719-4"], "range": ["#85208A","#FF8C1A","#19EFEF","#1A1AE0","#2BE52B","#F01818"]}}}},
  {"data": {"name": "labels"}, "transform": [{"filter": "datum.p==='a'"}], "mark": {"type": "text", "align": "left", "baseline": "middle", "fontSize": 15},
   "encoding": {"x": {"field": "x", "type": "quantitative", "axis": null}, "y": {"field": "y", "type": "quantitative", "axis": null}, "text": {"field": "t"}, "color": {"field": "s", "type": "nominal", "legend": null}}},
  {"data": {"name": "tags"}, "transform": [{"filter": "datum.p==='a'"}], "mark": {"type": "text", "align": "left", "baseline": "middle", "fontSize": 20, "color": "black"},
   "encoding": {"x": {"field": "x", "type": "quantitative", "axis": null}, "y": {"field": "y", "type": "quantitative", "axis": null}, "text": {"field": "t"}}}
 ],
 "resolve": {"axis": {"x": "independent", "y": "independent"}}},
{"width": 304, "height": 204, "title": {"text": "Pilot Range", "dx": 1},
 "layer": [
  {"data": {"name": "lines"}, "transform": [{"filter": "datum.p==='b'"}], "mark": {"type": "line", "opacity": 0},
   "encoding": {"x": {"field": "x", "type": "quantitative", "scale": {"domain": [0,100], "nice": false}, "axis": {"orient": "top", "values": [0,20,40,60,80,100], "labels": false, "tickSize": 11, "title": null}},
    "y": {"field": "y", "type": "quantitative", "scale": {"domain": [0,120], "nice": false}, "axis": {"orient": "left", "values": [0,10,20,30,40,50,60,70,80,90,100,110,120], "labels": false, "tickSize": 7, "title": null}}}},
  {"data": {"name": "lines"}, "transform": [{"filter": "datum.p==='b'"}], "mark": {"type": "line", "opacity": 0},
   "encoding": {"x": {"field": "x", "type": "quantitative", "axis": null},
    "y": {"field": "y", "type": "quantitative", "axis": {"orient": "right", "values": [0,10,20,30,40,50,60,70,80,90,100,110,120], "labels": false, "tickSize": 10, "title": null}}}},
  {"data": {"name": "lines"}, "transform": [{"filter": "datum.p==='b'"}], "mark": {"type": "line", "interpolate": "step-after", "strokeWidth": 3},
   "encoding": {"x": {"field": "x", "type": "quantitative", "axis": {"orient": "bottom", "values": [0,20,40,60,80,100], "labels": false, "tickSize": 12, "title": null}},
    "y": {"field": "y", "type": "quantitative", "axis": {"orient": "left", "values": [0,50,100], "labels": false, "tickSize": 12, "title": null}},
    "color": {"field": "s", "type": "nominal", "legend": null, "scale": {"domain": ["050719-16","160719-4","090719-1","060719-7","200719-7","050719-23","200719-7y","060719-3","180719-10","060719-5"], "range": ["#FF8C1A","#6F9F9F","#B0303C","#A06E3E","#19EFEF","#F01818","#EEE21E","#2BE52B","#1A1AE0","#85208A"]}}}},
  {"data": {"name": "labels"}, "transform": [{"filter": "datum.p==='b'"}], "mark": {"type": "text", "align": "left", "baseline": "middle", "fontSize": 15},
   "encoding": {"x": {"field": "x", "type": "quantitative", "axis": null}, "y": {"field": "y", "type": "quantitative", "axis": null}, "text": {"field": "t"}, "color": {"field": "s", "type": "nominal", "legend": null}}},
  {"data": {"name": "tags"}, "transform": [{"filter": "datum.p==='b'"}], "mark": {"type": "text", "align": "left", "baseline": "middle", "fontSize": 20, "color": "black"},
   "encoding": {"x": {"field": "x", "type": "quantitative", "axis": null}, "y": {"field": "y", "type": "quantitative", "axis": null}, "text": {"field": "t"}}}
 ],
 "resolve": {"axis": {"x": "independent", "y": "independent"}}},
{"width": 304, "height": 204, "title": {"text": "Pequop Mtns.", "dx": 5},
 "layer": [
  {"data": {"name": "lines"}, "transform": [{"filter": "datum.p==='c'"}], "mark": {"type": "line", "opacity": 0},
   "encoding": {"x": {"field": "x", "type": "quantitative", "scale": {"domain": [0,100], "nice": false}, "axis": {"orient": "top", "values": [0,20,40,60,80,100], "labels": false, "tickSize": 11, "title": null}},
    "y": {"field": "y", "type": "quantitative", "scale": {"domain": [0,120], "nice": false}, "axis": {"orient": "left", "values": [0,10,20,30,40,50,60,70,80,90,100,110,120], "labels": false, "tickSize": 7, "title": null}}}},
  {"data": {"name": "lines"}, "transform": [{"filter": "datum.p==='c'"}], "mark": {"type": "line", "opacity": 0},
   "encoding": {"x": {"field": "x", "type": "quantitative", "axis": null},
    "y": {"field": "y", "type": "quantitative", "axis": {"orient": "right", "values": [0,10,20,30,40,50,60,70,80,90,100,110,120], "labels": false, "tickSize": 10, "title": "Muscovite", "titleAngle": -90, "titleBaseline": "top", "titlePadding": 12}}}},
  {"data": {"name": "lines"}, "transform": [{"filter": "datum.p==='c'"}], "mark": {"type": "line", "interpolate": "step-after", "strokeWidth": 3},
   "encoding": {"x": {"field": "x", "type": "quantitative", "axis": {"orient": "bottom", "values": [0,20,40,60,80,100], "labels": false, "tickSize": 12, "title": null}},
    "y": {"field": "y", "type": "quantitative", "axis": {"orient": "left", "values": [0,50,100], "labels": false, "tickSize": 12, "title": null}},
    "color": {"field": "s", "type": "nominal", "legend": null, "scale": {"domain": ["H18-34","H18-24","H17-23","H18-627","H18-40","H18-23","H15-35","61418"], "range": ["#B0303C","#A06E3E","#85208A","#FF8C1A","#19EFEF","#1A1AE0","#2BE52B","#F01818"]}}}},
  {"data": {"name": "labels"}, "transform": [{"filter": "datum.p==='c'"}], "mark": {"type": "text", "align": "left", "baseline": "middle", "fontSize": 15},
   "encoding": {"x": {"field": "x", "type": "quantitative", "axis": null}, "y": {"field": "y", "type": "quantitative", "axis": null}, "text": {"field": "t"}, "color": {"field": "s", "type": "nominal", "legend": null}}},
  {"data": {"name": "tags"}, "transform": [{"filter": "datum.p==='c'"}], "mark": {"type": "text", "align": "left", "baseline": "middle", "fontSize": 20, "color": "black"},
   "encoding": {"x": {"field": "x", "type": "quantitative", "axis": null}, "y": {"field": "y", "type": "quantitative", "axis": null}, "text": {"field": "t"}}}
 ],
 "resolve": {"axis": {"x": "independent", "y": "independent"}}},
{"width": 304, "height": 204,
 "layer": [
  {"data": {"name": "lines"}, "transform": [{"filter": "datum.p==='d'"}], "mark": {"type": "line", "opacity": 0},
   "encoding": {"x": {"field": "x", "type": "quantitative", "scale": {"domain": [0,100], "nice": false}, "axis": {"orient": "top", "values": [0,20,40,60,80,100], "labels": false, "tickSize": 11, "title": null}},
    "y": {"field": "y", "type": "quantitative", "scale": {"domain": [0,120], "nice": false}, "axis": {"orient": "left", "values": [0,10,20,30,40,50,60,70,80,90,100,110,120], "labels": false, "tickSize": 7, "title": null}}}},
  {"data": {"name": "lines"}, "transform": [{"filter": "datum.p==='d'"}], "mark": {"type": "line", "opacity": 0},
   "encoding": {"x": {"field": "x", "type": "quantitative", "axis": null},
    "y": {"field": "y", "type": "quantitative", "axis": {"orient": "right", "values": [0,10,20,30,40,50,60,70,80,90,100,110,120], "labels": false, "tickSize": 10, "title": null}}}},
  {"data": {"name": "lines"}, "transform": [{"filter": "datum.p==='d'"}], "mark": {"type": "line", "interpolate": "step-after", "strokeWidth": 3},
   "encoding": {"x": {"field": "x", "type": "quantitative", "axis": {"orient": "bottom", "values": [0,20,40,60,80,100], "labels": false, "tickSize": 12, "title": null}},
    "y": {"field": "y", "type": "quantitative", "axis": {"orient": "left", "values": [0,50,100], "tickSize": 12, "title": "Apparent age (Ma)", "titlePadding": 2}},
    "color": {"field": "s", "type": "nominal", "legend": null, "scale": {"domain": ["210719-2","080719-7","020719-5"], "range": ["#A06E3E","#FF8C1A","#2BE52B"]}}}},
  {"data": {"name": "labels"}, "transform": [{"filter": "datum.p==='d'"}], "mark": {"type": "text", "align": "left", "baseline": "middle", "fontSize": 15},
   "encoding": {"x": {"field": "x", "type": "quantitative", "axis": null}, "y": {"field": "y", "type": "quantitative", "axis": null}, "text": {"field": "t"}, "color": {"field": "s", "type": "nominal", "legend": null}}},
  {"data": {"name": "tags"}, "transform": [{"filter": "datum.p==='d'"}], "mark": {"type": "text", "align": "left", "baseline": "middle", "fontSize": 20, "color": "black"},
   "encoding": {"x": {"field": "x", "type": "quantitative", "axis": null}, "y": {"field": "y", "type": "quantitative", "axis": null}, "text": {"field": "t"}}}
 ],
 "resolve": {"axis": {"x": "independent", "y": "independent"}}},
{"width": 304, "height": 204,
 "layer": [
  {"data": {"name": "lines"}, "transform": [{"filter": "datum.p==='e'"}], "mark": {"type": "line", "opacity": 0},
   "encoding": {"x": {"field": "x", "type": "quantitative", "scale": {"domain": [0,100], "nice": false}, "axis": {"orient": "top", "values": [0,20,40,60,80,100], "labels": false, "tickSize": 11, "title": null}},
    "y": {"field": "y", "type": "quantitative", "scale": {"domain": [0,120], "nice": false}, "axis": {"orient": "left", "values": [0,10,20,30,40,50,60,70,80,90,100,110,120], "labels": false, "tickSize": 7, "title": null}}}},
  {"data": {"name": "lines"}, "transform": [{"filter": "datum.p==='e'"}], "mark": {"type": "line", "opacity": 0},
   "encoding": {"x": {"field": "x", "type": "quantitative", "axis": null},
    "y": {"field": "y", "type": "quantitative", "axis": {"orient": "right", "values": [0,10,20,30,40,50,60,70,80,90,100,110,120], "labels": false, "tickSize": 10, "title": null}}}},
  {"data": {"name": "lines"}, "transform": [{"filter": "datum.p==='e'"}], "mark": {"type": "line", "interpolate": "step-after", "strokeWidth": 3},
   "encoding": {"x": {"field": "x", "type": "quantitative", "axis": {"orient": "bottom", "values": [0,20,40,60,80,100], "labels": false, "tickSize": 12, "title": null}},
    "y": {"field": "y", "type": "quantitative", "axis": {"orient": "left", "values": [0,50,100], "labels": false, "tickSize": 12, "title": null}},
    "color": {"field": "s", "type": "nominal", "legend": null, "scale": {"domain": ["190818-3","190719-3","070719-9","200719-7","180719-10","060719-3"], "range": ["#A9C6E8","#7F4A1C","#B9B48C","#19EFEF","#1A1AE0","#2BE52B"]}}}},
  {"data": {"name": "labels"}, "transform": [{"filter": "datum.p==='e'"}], "mark": {"type": "text", "align": "left", "baseline": "middle", "fontSize": 15},
   "encoding": {"x": {"field": "x", "type": "quantitative", "axis": null}, "y": {"field": "y", "type": "quantitative", "axis": null}, "text": {"field": "t"}, "color": {"field": "s", "type": "nominal", "legend": null}}},
  {"data": {"name": "tags"}, "transform": [{"filter": "datum.p==='e'"}], "mark": {"type": "text", "align": "left", "baseline": "middle", "fontSize": 20, "color": "black"},
   "encoding": {"x": {"field": "x", "type": "quantitative", "axis": null}, "y": {"field": "y", "type": "quantitative", "axis": null}, "text": {"field": "t"}}}
 ],
 "resolve": {"axis": {"x": "independent", "y": "independent"}}},
{"width": 304, "height": 204,
 "layer": [
  {"data": {"name": "lines"}, "transform": [{"filter": "datum.p==='f'"}], "mark": {"type": "line", "opacity": 0},
   "encoding": {"x": {"field": "x", "type": "quantitative", "scale": {"domain": [0,100], "nice": false}, "axis": {"orient": "top", "values": [0,20,40,60,80,100], "labels": false, "tickSize": 11, "title": null}},
    "y": {"field": "y", "type": "quantitative", "scale": {"domain": [0,120], "nice": false}, "axis": {"orient": "left", "values": [0,10,20,30,40,50,60,70,80,90,100,110,120], "labels": false, "tickSize": 7, "title": null}}}},
  {"data": {"name": "lines"}, "transform": [{"filter": "datum.p==='f'"}], "mark": {"type": "line", "opacity": 0},
   "encoding": {"x": {"field": "x", "type": "quantitative", "axis": null},
    "y": {"field": "y", "type": "quantitative", "axis": {"orient": "right", "values": [0,10,20,30,40,50,60,70,80,90,100,110,120], "labels": false, "tickSize": 10, "title": "Biotite", "titleAngle": -90, "titleBaseline": "top", "titlePadding": 12}}}},
  {"data": {"name": "lines"}, "transform": [{"filter": "datum.p==='f'"}], "mark": {"type": "line", "interpolate": "step-after", "strokeWidth": 3},
   "encoding": {"x": {"field": "x", "type": "quantitative", "axis": {"orient": "bottom", "values": [0,20,40,60,80,100], "labels": false, "tickSize": 12, "title": null}},
    "y": {"field": "y", "type": "quantitative", "axis": {"orient": "left", "values": [0,50,100], "labels": false, "tickSize": 12, "title": null}},
    "color": {"field": "s", "type": "nominal", "legend": null, "scale": {"domain": ["H18-627B","H15-35B","61418(2)bt"], "range": ["#FF8C1A","#2BE52B","#F01818"]}}}},
  {"data": {"name": "labels"}, "transform": [{"filter": "datum.p==='f'"}], "mark": {"type": "text", "align": "left", "baseline": "middle", "fontSize": 15},
   "encoding": {"x": {"field": "x", "type": "quantitative", "axis": null}, "y": {"field": "y", "type": "quantitative", "axis": null}, "text": {"field": "t"}, "color": {"field": "s", "type": "nominal", "legend": null}}},
  {"data": {"name": "tags"}, "transform": [{"filter": "datum.p==='f'"}], "mark": {"type": "text", "align": "left", "baseline": "middle", "fontSize": 20, "color": "black"},
   "encoding": {"x": {"field": "x", "type": "quantitative", "axis": null}, "y": {"field": "y", "type": "quantitative", "axis": null}, "text": {"field": "t"}}}
 ],
 "resolve": {"axis": {"x": "independent", "y": "independent"}}},
{"width": 304, "height": 204,
 "layer": [
  {"data": {"name": "lines"}, "transform": [{"filter": "datum.p==='g'"}], "mark": {"type": "line", "opacity": 0},
   "encoding": {"x": {"field": "x", "type": "quantitative", "scale": {"domain": [0,100], "nice": false}, "axis": {"orient": "top", "values": [0,20,40,60,80,100], "labels": false, "tickSize": 11, "title": null}},
    "y": {"field": "y", "type": "quantitative", "scale": {"domain": [0,120], "nice": false}, "axis": {"orient": "left", "values": [0,10,20,30,40,50,60,70,80,90,100,110,120], "labels": false, "tickSize": 7, "title": null}}}},
  {"data": {"name": "lines"}, "transform": [{"filter": "datum.p==='g'"}], "mark": {"type": "line", "opacity": 0},
   "encoding": {"x": {"field": "x", "type": "quantitative", "axis": null},
    "y": {"field": "y", "type": "quantitative", "axis": {"orient": "right", "values": [0,10,20,30,40,50,60,70,80,90,100,110,120], "labels": false, "tickSize": 10, "title": null}}}},
  {"data": {"name": "lines"}, "transform": [{"filter": "datum.p==='g'"}], "mark": {"type": "line", "interpolate": "step-after", "strokeWidth": 3},
   "encoding": {"x": {"field": "x", "type": "quantitative", "axis": {"orient": "bottom", "values": [0,20,40,60,80,100], "tickSize": 12, "labelPadding": 10, "title": "Cumulative % ³⁹Ar Released", "titlePadding": 8}},
    "y": {"field": "y", "type": "quantitative", "axis": {"orient": "left", "values": [0,50,100], "tickSize": 12, "title": "Apparent age (Ma)", "titlePadding": 2}},
    "color": {"field": "s", "type": "nominal", "legend": null, "scale": {"domain": ["210719-2","020719-13"], "range": ["#A06E3E","#19EFEF"]}}}},
  {"data": {"name": "labels"}, "transform": [{"filter": "datum.p==='g'"}], "mark": {"type": "text", "align": "left", "baseline": "middle", "fontSize": 15},
   "encoding": {"x": {"field": "x", "type": "quantitative", "axis": null}, "y": {"field": "y", "type": "quantitative", "axis": null}, "text": {"field": "t"}, "color": {"field": "s", "type": "nominal", "legend": null}}},
  {"data": {"name": "tags"}, "transform": [{"filter": "datum.p==='g'"}], "mark": {"type": "text", "align": "left", "baseline": "middle", "fontSize": 20, "color": "black"},
   "encoding": {"x": {"field": "x", "type": "quantitative", "axis": null}, "y": {"field": "y", "type": "quantitative", "axis": null}, "text": {"field": "t"}}}
 ],
 "resolve": {"axis": {"x": "independent", "y": "independent"}}},
{"width": 304, "height": 204,
 "layer": [
  {"data": {"name": "lines"}, "transform": [{"filter": "datum.p==='h'"}], "mark": {"type": "line", "opacity": 0},
   "encoding": {"x": {"field": "x", "type": "quantitative", "scale": {"domain": [0,100], "nice": false}, "axis": {"orient": "top", "values": [0,20,40,60,80,100], "labels": false, "tickSize": 11, "title": null}},
    "y": {"field": "y", "type": "quantitative", "scale": {"domain": [0,120], "nice": false}, "axis": {"orient": "left", "values": [0,10,20,30,40,50,60,70,80,90,100,110,120], "labels": false, "tickSize": 7, "title": null}}}},
  {"data": {"name": "lines"}, "transform": [{"filter": "datum.p==='h'"}], "mark": {"type": "line", "opacity": 0},
   "encoding": {"x": {"field": "x", "type": "quantitative", "axis": null},
    "y": {"field": "y", "type": "quantitative", "axis": {"orient": "right", "values": [0,10,20,30,40,50,60,70,80,90,100,110,120], "labels": false, "tickSize": 10, "title": null}}}},
  {"data": {"name": "lines"}, "transform": [{"filter": "datum.p==='h'"}], "mark": {"type": "line", "interpolate": "step-after", "strokeWidth": 3},
   "encoding": {"x": {"field": "x", "type": "quantitative", "axis": {"orient": "bottom", "values": [0,20,40,60,80,100], "tickSize": 12, "labelPadding": 10, "title": "Cumulative % ³⁹Ar Released", "titlePadding": 8}},
    "y": {"field": "y", "type": "quantitative", "axis": {"orient": "left", "values": [0,50,100], "labels": false, "tickSize": 12, "title": null}},
    "color": {"field": "s", "type": "nominal", "legend": null, "scale": {"domain": ["110719-3","110719-3t","050719-23"], "range": ["#C4F2C4","#8BA68B","#F01818"]}}}},
  {"data": {"name": "labels"}, "transform": [{"filter": "datum.p==='h'"}], "mark": {"type": "text", "align": "left", "baseline": "middle", "fontSize": 15},
   "encoding": {"x": {"field": "x", "type": "quantitative", "axis": null}, "y": {"field": "y", "type": "quantitative", "axis": null}, "text": {"field": "t"}, "color": {"field": "s", "type": "nominal", "legend": null}}},
  {"data": {"name": "tags"}, "transform": [{"filter": "datum.p==='h'"}], "mark": {"type": "text", "align": "left", "baseline": "middle", "fontSize": 20, "color": "black"},
   "encoding": {"x": {"field": "x", "type": "quantitative", "axis": null}, "y": {"field": "y", "type": "quantitative", "axis": null}, "text": {"field": "t"}}}
 ],
 "resolve": {"axis": {"x": "independent", "y": "independent"}}},
{"width": 304, "height": 204,
 "layer": [
  {"data": {"name": "lines"}, "transform": [{"filter": "datum.p==='i'"}], "mark": {"type": "line", "opacity": 0},
   "encoding": {"x": {"field": "x", "type": "quantitative", "scale": {"domain": [0,100], "nice": false}, "axis": {"orient": "top", "values": [0,20,40,60,80,100], "labels": false, "tickSize": 11, "title": null}},
    "y": {"field": "y", "type": "quantitative", "scale": {"domain": [0,120], "nice": false}, "axis": {"orient": "left", "values": [0,10,20,30,40,50,60,70,80,90,100,110,120], "labels": false, "tickSize": 7, "title": null}}}},
  {"data": {"name": "lines"}, "transform": [{"filter": "datum.p==='i'"}], "mark": {"type": "line", "opacity": 0},
   "encoding": {"x": {"field": "x", "type": "quantitative", "axis": null},
    "y": {"field": "y", "type": "quantitative", "axis": {"orient": "right", "values": [0,10,20,30,40,50,60,70,80,90,100,110,120], "labels": false, "tickSize": 10, "title": "K-fledspar", "titleAngle": -90, "titleBaseline": "top", "titlePadding": 12}}}},
  {"data": {"name": "lines"}, "transform": [{"filter": "datum.p==='i'"}], "mark": {"type": "line", "interpolate": "step-after", "strokeWidth": 3},
   "encoding": {"x": {"field": "x", "type": "quantitative", "axis": {"orient": "bottom", "values": [0,20,40,60,80,100], "tickSize": 12, "labelPadding": 10, "title": "Cumulative % ³⁹Ar Released", "titlePadding": 8}},
    "y": {"field": "y", "type": "quantitative", "axis": {"orient": "left", "values": [0,50,100], "labels": false, "tickSize": 12, "title": null}},
    "color": {"field": "s", "type": "nominal", "legend": null, "scale": {"domain": ["H18-40","H18-23"], "range": ["#19EFEF","#1A1AE0"]}}}},
  {"data": {"name": "labels"}, "transform": [{"filter": "datum.p==='i'"}], "mark": {"type": "text", "align": "left", "baseline": "middle", "fontSize": 15},
   "encoding": {"x": {"field": "x", "type": "quantitative", "axis": null}, "y": {"field": "y", "type": "quantitative", "axis": null}, "text": {"field": "t"}, "color": {"field": "s", "type": "nominal", "legend": null}}},
  {"data": {"name": "tags"}, "transform": [{"filter": "datum.p==='i'"}], "mark": {"type": "text", "align": "left", "baseline": "middle", "fontSize": 20, "color": "black"},
   "encoding": {"x": {"field": "x", "type": "quantitative", "axis": null}, "y": {"field": "y", "type": "quantitative", "axis": null}, "text": {"field": "t"}}}
 ],
 "resolve": {"axis": {"x": "independent", "y": "independent"}}}
]
}
